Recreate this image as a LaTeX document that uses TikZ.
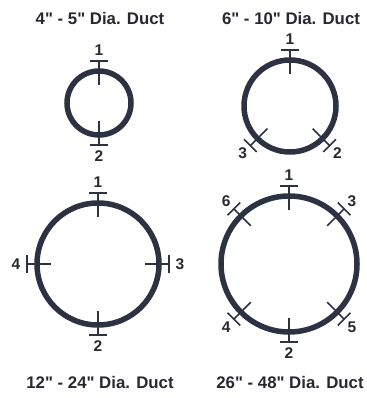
\documentclass[tikz,border=0pt]{standalone}
\usepackage{fontspec}
\setmainfont{Liberation Sans}[Ligatures=TeXOff]
\usetikzlibrary{calc}

\definecolor{ductblue}{RGB}{44,50,66}
\definecolor{ductink}{RGB}{40,40,48}

% one measuring point: center, radius, angle, number
\newcommand{\ducttick}[4]{%
  \draw[tickline] ($(#1)+(#3:{#2-14})$) -- ($(#1)+(#3:{#2+10})$);
  \draw[tickline] ($(#1)+(#3:{#2+10})+({#3+90}:9)$)
    -- ($(#1)+(#3:{#2+10})+({#3-90}:9)$);
  \node[num] (#1-#4) at ($(#1)+(#3:{#2+21})$) {#4};
}

\begin{document}
\begin{tikzpicture}[x=1pt, y=1pt,
    pipe/.style={ductblue, line width=5.5pt},
    tickline/.style={ductblue, line width=1.6pt},
    num/.style={text=ductink, font=\bfseries\fontsize{15.5}{15.5}\selectfont, inner sep=0pt},
    caption/.style={text=ductink, font=\bfseries\fontsize{16.8}{17}\selectfont, inner sep=0pt}]

    \useasboundingbox (0,0) rectangle (366,398);

    \coordinate (small) at (99,295);
    \coordinate (medium) at (290,292);
    \coordinate (large) at (98,134);
    \coordinate (xlarge) at (289,134);

    \node[caption] (small-title) at (100,379) {4" - 5" Dia. Duct};
    \node[caption] (medium-title) at (291,379) {6" - 10" Dia. Duct};
    \node[caption] (large-title) at (100,16) {12" - 24" Dia. Duct};
    \node[caption] (xlarge-title) at (290,16) {26" - 48" Dia. Duct};

    \draw[pipe] (small) circle[radius=32];
    \ducttick{small}{32}{90}{1}
    \ducttick{small}{32}{270}{2}

    \draw[pipe] (medium) circle[radius=46];
    \ducttick{medium}{46}{90}{1}
    \ducttick{medium}{46}{315}{2}
    \ducttick{medium}{46}{225}{3}

    \draw[pipe] (large) circle[radius=61];
    \ducttick{large}{61}{90}{1}
    \ducttick{large}{61}{270}{2}
    \ducttick{large}{61}{0}{3}
    \ducttick{large}{61}{180}{4}

    \draw[pipe] (xlarge) circle[radius=68];
    \ducttick{xlarge}{68}{90}{1}
    \ducttick{xlarge}{68}{270}{2}
    \ducttick{xlarge}{68}{45}{3}
    \ducttick{xlarge}{68}{225}{4}
    \ducttick{xlarge}{68}{315}{5}
    \ducttick{xlarge}{68}{135}{6}

\end{tikzpicture}
\end{document}
